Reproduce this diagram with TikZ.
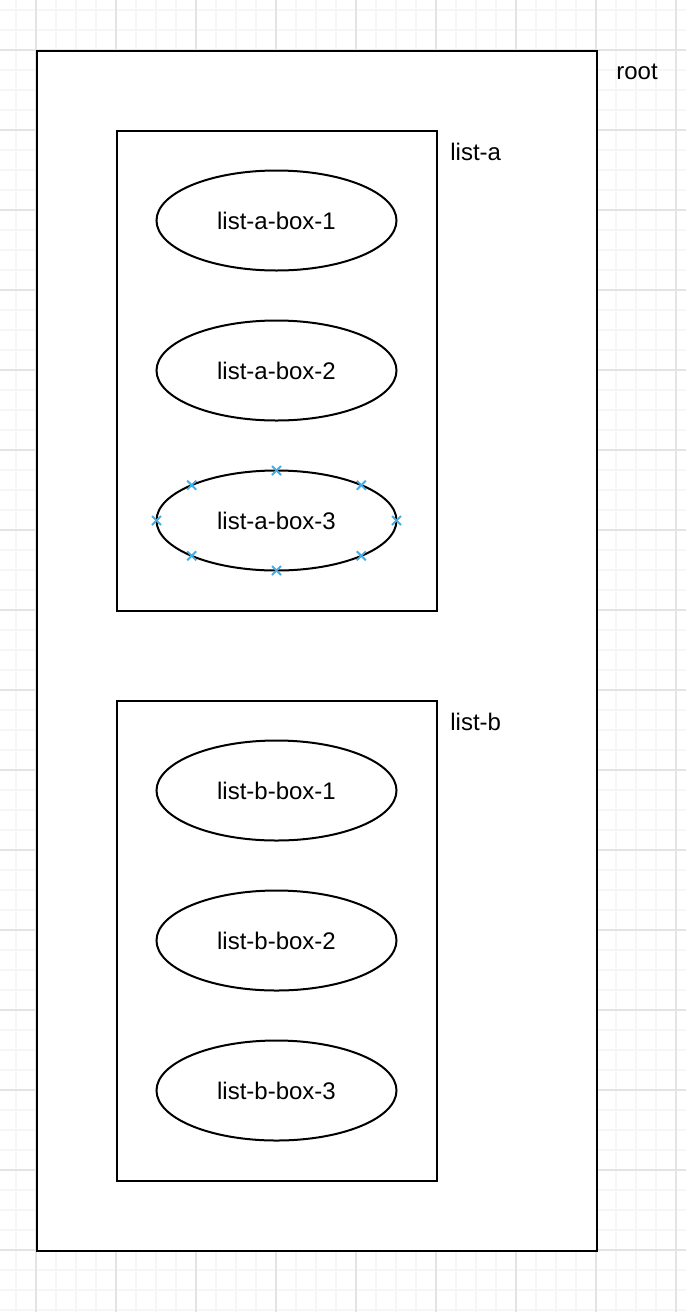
\documentclass[tikz,border=0pt]{standalone}
\usepackage{fontspec}
\setmainfont{Liberation Sans}
\usetikzlibrary{shapes.geometric,calc}
\definecolor{gridminor}{HTML}{F6F6F6}
\definecolor{gridmajor}{HTML}{E4E4E4}
\definecolor{markblue}{HTML}{3DAEE9}
\tikzset{
  frame/.style={draw=black, line width=1pt, fill=white},
  oval/.style={ellipse, draw=black, line width=1pt, fill=white, minimum width=120pt, minimum height=50pt, inner sep=0pt, font=\fontsize{12pt}{14pt}\selectfont},
  lbl/.style={anchor=west, inner sep=0pt, font=\fontsize{12pt}{14pt}\selectfont},
  xmark/.style={draw=markblue, line width=0.9pt},
}
\begin{document}
\begin{tikzpicture}[x=0.5pt, y=-0.5pt]
\useasboundingbox (0,0) rectangle (686,1312);
\fill[white] (0,0) rectangle (686,1312);
% grid
\foreach \x in {16,36,...,676} \draw[gridminor, line width=0.8pt] (\x,0) -- (\x,1312);
\foreach \y in {10,30,...,1310} \draw[gridminor, line width=0.8pt] (0,\y) -- (686,\y);
\foreach \x in {36,116,...,676} \draw[gridmajor, line width=0.8pt] (\x,0) -- (\x,1312);
\foreach \y in {50,130,...,1250} \draw[gridmajor, line width=0.8pt] (0,\y) -- (686,\y);
% containers
\draw[frame] (36.5,50.5) rectangle (596.5,1250.5);
\draw[frame] (116.5,130.5) rectangle (436.5,610.5);
\draw[frame] (116.5,700.5) rectangle (436.5,1180.5);
\node[lbl] (root) at (616,72) {root};
\node[lbl] (lista) at (450,152) {list-a};
\node[lbl] (listb) at (450,722) {list-b};
% ellipses
\node[oval] (a1) at (276.5,220.5) {list-a-box-1};
\node[oval] (a2) at (276.5,370.5) {list-a-box-2};
\node[oval] (a3) at (276.5,520.5) {list-a-box-3};
\node[oval] (b1) at (276.5,790.5) {list-b-box-1};
\node[oval] (b2) at (276.5,940.5) {list-b-box-2};
\node[oval] (b3) at (276.5,1090.5) {list-b-box-3};
% selection marks
\foreach \dx/\dy in {0/-50, 0/50, -120/0, 120/0, -84.85/-35.36, 84.85/-35.36, -84.85/35.36, 84.85/35.36}{
  \coordinate (m) at ($(a3.center)+(\dx,\dy)$);
  \draw[xmark] ($(m)+(-4.5,-4.5)$) -- ($(m)+(4.5,4.5)$);
  \draw[xmark] ($(m)+(-4.5,4.5)$) -- ($(m)+(4.5,-4.5)$);
}
\end{tikzpicture}
\end{document}
